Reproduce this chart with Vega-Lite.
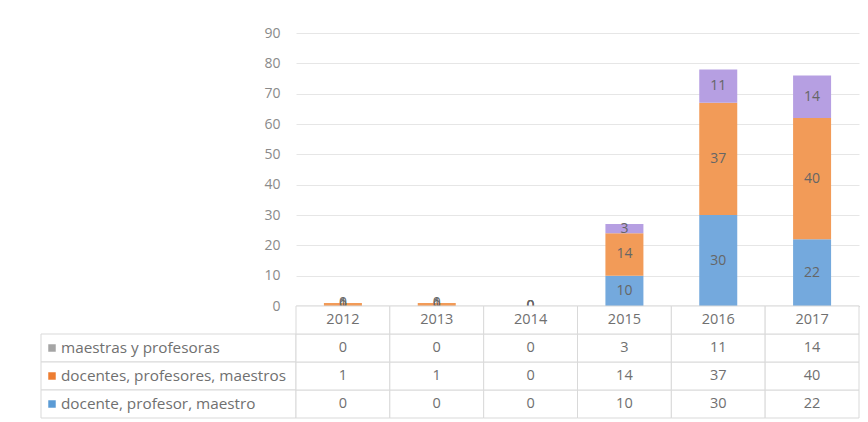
{
  "$schema": "https://vega.github.io/schema/vega-lite/v6.json",
  "padding": {"left": 40, "top": 26, "right": 0, "bottom": 0},
  "background": "white",
  "config": {"font": "Open Sans", "view": {"stroke": null}},
  "datasets": {
    "t": [
      {"year": "2012", "series": "docente, profesor, maestro", "value": 0},
      {"year": "2012", "series": "docentes, profesores, maestros", "value": 1},
      {"year": "2012", "series": "maestras y profesoras", "value": 0},
      {"year": "2013", "series": "docente, profesor, maestro", "value": 0},
      {"year": "2013", "series": "docentes, profesores, maestros", "value": 1},
      {"year": "2013", "series": "maestras y profesoras", "value": 0},
      {"year": "2014", "series": "docente, profesor, maestro", "value": 0},
      {"year": "2014", "series": "docentes, profesores, maestros", "value": 0},
      {"year": "2014", "series": "maestras y profesoras", "value": 0},
      {"year": "2015", "series": "docente, profesor, maestro", "value": 10},
      {"year": "2015", "series": "docentes, profesores, maestros", "value": 14},
      {"year": "2015", "series": "maestras y profesoras", "value": 3},
      {"year": "2016", "series": "docente, profesor, maestro", "value": 30},
      {"year": "2016", "series": "docentes, profesores, maestros", "value": 37},
      {"year": "2016", "series": "maestras y profesoras", "value": 11},
      {"year": "2017", "series": "docente, profesor, maestro", "value": 22},
      {"year": "2017", "series": "docentes, profesores, maestros", "value": 40},
      {"year": "2017", "series": "maestras y profesoras", "value": 14}
    ],
    "s": [
      {"series": "maestras y profesoras"},
      {"series": "docentes, profesores, maestros"},
      {"series": "docente, profesor, maestro"}
    ]
  },
  "columns": 2,
  "spacing": 0,
  "bounds": "flush",
  "resolve": {"scale": {"color": "independent", "x": "independent", "y": "independent"}},
  "concat": [
    {
      "width": 255, "height": 273,
      "data": {"values": [{}]},
      "mark": {"type": "text"},
      "encoding": {"text": {"value": ""}}
    },
    {
      "width": 563, "height": 273,
      "data": {"name": "t"},
      "encoding": {
        "x": {"field": "year", "type": "nominal",
              "scale": {"paddingInner": 0.595, "paddingOuter": 0.2975},
              "axis": {"title": null, "labels": false, "ticks": false, "domainColor": "#c8c8c8", "domainWidth": 1.5, "grid": false}}
      },
      "layer": [
        {
          "mark": {"type": "bar"},
          "encoding": {
            "y": {"field": "value", "type": "quantitative", "stack": "zero",
                  "scale": {"domain": [0, 90], "nice": false},
                  "axis": {"title": null, "values": [0,10,20,30,40,50,60,70,80,90], "grid": true, "gridColor": "#e6e6e6",
                           "domain": false, "ticks": false, "labelOverlap": false, "labelColor": "#8a8a8a", "labelFontSize": 14, "labelPadding": 16}},
            "color": {"field": "series", "type": "nominal",
                      "scale": {"domain": ["docente, profesor, maestro", "docentes, profesores, maestros", "maestras y profesoras"],
                                "range": ["#74a9dd", "#f29b58", "#b69fe2"]},
                      "legend": null},
            "order": {"field": "series", "sort": "ascending"}
          }
        },
        {
          "mark": {"type": "text", "fontSize": 14, "color": "#666666"},
          "encoding": {
            "y": {"field": "value", "type": "quantitative", "stack": "zero", "bandPosition": 0.5,
                  "axis": {"title": null, "values": [0,10,20,30,40,50,60,70,80,90], "grid": true, "gridColor": "#e6e6e6",
                           "domain": false, "ticks": false, "labelOverlap": false, "labelColor": "#8a8a8a", "labelFontSize": 14, "labelPadding": 16}},
            "detail": {"field": "series"},
            "order": {"field": "series", "sort": "ascending"},
            "text": {"field": "value", "type": "quantitative"}
          }
        }
      ]
    },
    {
      "width": 255, "height": 112,
      "data": {"name": "s"},
      "encoding": {
        "y": {"field": "series", "type": "nominal",
              "scale": {"domain": ["hdr", "maestras y profesoras", "docentes, profesores, maestros", "docente, profesor, maestro"], "paddingInner": 0, "paddingOuter": 0},
              "axis": null},
        "x": {"datum": "lbl", "type": "nominal", "scale": {"paddingInner": 0, "paddingOuter": 0}, "axis": null}
      },
      "layer": [
        {"mark": {"type": "rect", "fill": "white", "stroke": "#d9d9d9", "strokeWidth": 1}},
        {"mark": {"type": "square", "size": 56, "filled": true, "opacity": 1, "xOffset": 11},
         "encoding": {
           "x": {"datum": "lbl", "type": "nominal", "bandPosition": 0},
           "color": {"field": "series", "type": "nominal",
                     "scale": {"domain": ["docente, profesor, maestro", "docentes, profesores, maestros", "maestras y profesoras"],
                               "range": ["#5b9bd5", "#ed7d31", "#a5a5a5"]},
                     "legend": null}}},
        {"mark": {"type": "text", "align": "left", "dx": 20, "fontSize": 15.3, "color": "#707070"},
         "encoding": {
           "x": {"datum": "lbl", "type": "nominal", "bandPosition": 0},
           "text": {"field": "series"}}}
      ]
    },
    {
      "width": 563, "height": 112,
      "data": {"name": "t"},
      "encoding": {
        "x": {"field": "year", "type": "nominal", "scale": {"paddingInner": 0, "paddingOuter": 0}, "axis": null}
      },
      "layer": [
        {"mark": {"type": "rect", "fill": "white", "stroke": "#d9d9d9", "strokeWidth": 1},
         "encoding": {"y": {"field": "series", "type": "nominal",
              "scale": {"domain": ["hdr", "maestras y profesoras", "docentes, profesores, maestros", "docente, profesor, maestro"], "paddingInner": 0, "paddingOuter": 0},
              "axis": null}}},
        {"transform": [{"filter": "datum.series == 'maestras y profesoras'"}],
         "mark": {"type": "rect", "fill": "white", "stroke": "#d9d9d9", "strokeWidth": 1},
         "encoding": {"y": {"datum": "hdr", "type": "nominal"}}},
        {"mark": {"type": "text", "fontSize": 14.5, "color": "#707070"},
         "encoding": {"y": {"field": "series", "type": "nominal"}, "text": {"field": "value", "type": "quantitative"}}},
        {"transform": [{"filter": "datum.series == 'maestras y profesoras'"}],
         "mark": {"type": "text", "fontSize": 14.5, "color": "#707070"},
         "encoding": {"y": {"datum": "hdr", "type": "nominal"}, "text": {"field": "year"}}}
      ]
    }
  ]
}
